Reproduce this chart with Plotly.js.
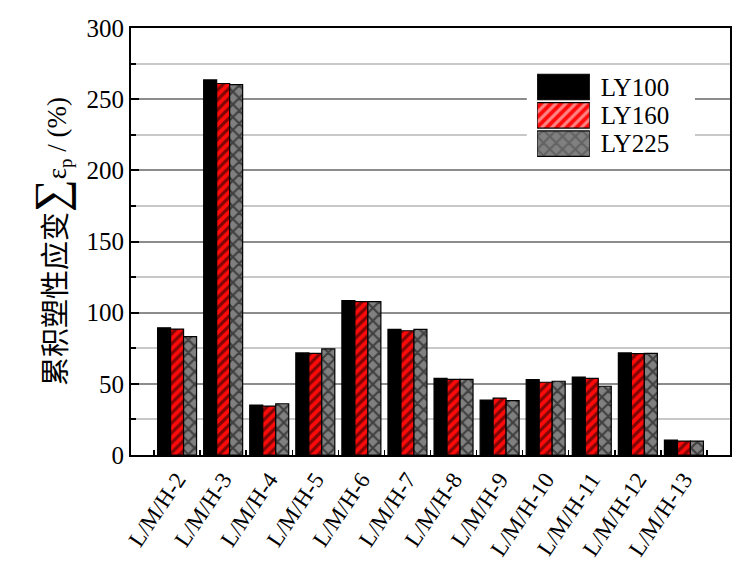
<!DOCTYPE html>
<html>
<head>
<meta charset="utf-8">
<script src="https://cdn.plot.ly/plotly-3.0.1.min.js"></script>
<style>html,body{margin:0;padding:0;background:#fff;}</style>
</head>
<body>
<div id="chart" style="width:737px;height:576px;"></div>
<script>
var categories = ['L/M/H-2','L/M/H-3','L/M/H-4','L/M/H-5','L/M/H-6','L/M/H-7','L/M/H-8','L/M/H-9','L/M/H-10','L/M/H-11','L/M/H-12','L/M/H-13'];
var seriesNames = ['LY100','LY160','LY225'];
var ly100 = [89.4, 263.5, 35.1, 71.7, 108.4, 88.3, 53.9, 38.6, 52.9, 54.8, 71.7, 10.5];
var ly160 = [88.5, 261.0, 34.4, 71.4, 107.7, 87.3, 53.2, 40.0, 51.1, 53.9, 71.2, 9.8];
var ly225 = [83.1, 260.2, 36.0, 74.5, 107.7, 88.3, 53.2, 38.2, 51.8, 48.3, 71.4, 9.8];
var legendSwatch = [1, 1, 1];

var FONT = 'Liberation Serif, Times New Roman, serif';
var fills = ['#000000', '#ff0a0a', '#808080'];
var shapes = ['', '/', 'x'];
var psize = [8, 7, 9];
var psolid = [0.3, 0.45, 0.42];

var series = [ly100, ly160, ly225];
var traces = series.map(function (vals, i) {
  return {
    type: 'bar',
    name: seriesNames[i],
    x: categories,
    y: vals,
    showlegend: false,
    marker: {
      color: fills[i],
      line: {color: '#000', width: 1.2},
      pattern: {shape: shapes[i], fillmode: 'overlay', fgcolor: '#000', bgcolor: fills[i], size: psize[i], solidity: psolid[i]}
    },
    hoverinfo: 'x+y+name'
  };
});

// legend swatches drawn as a bar trace on a small secondary axis pair
traces.push({
  type: 'bar',
  orientation: 'h',
  x: legendSwatch,
  y: seriesNames,
  xaxis: 'x2',
  yaxis: 'y2',
  width: 0.9,
  showlegend: false,
  hoverinfo: 'skip',
  marker: {
    color: fills,
    line: {color: '#000', width: 1.2},
    pattern: {shape: shapes, fillmode: 'overlay', fgcolor: '#000', bgcolor: fills, size: psize, solidity: psolid}
  }
});

var layout = {
  width: 737,
  height: 576,
  margin: {l: 131, r: 7, t: 28, b: 121},
  paper_bgcolor: '#fff',
  plot_bgcolor: '#fff',
  barmode: 'group',
  bargap: 0.154,
  bargroupgap: 0,
  showlegend: false,
  font: {family: FONT, color: '#000', size: 22},
  xaxis: {
    type: 'category',
    range: [-1, 12],
    tickson: 'boundaries',
    ticks: 'inside',
    ticklen: 5,
    tickwidth: 1.5,
    tickcolor: '#000',
    showline: true,
    linewidth: 2,
    linecolor: '#000',
    mirror: true,
    showgrid: false,
    zeroline: false,
    tickangle: -56,
    tickfont: {family: FONT, size: 23, color: '#000'}
  },
  yaxis: {
    range: [0, 300],
    dtick: 50,
    tick0: 0,
    ticks: 'inside',
    ticklen: 8,
    tickwidth: 2,
    tickcolor: '#000',
    showline: true,
    linewidth: 2,
    linecolor: '#000',
    mirror: true,
    showgrid: true,
    gridcolor: '#8c8c8c',
    gridwidth: 2,
    zeroline: false,
    tickfont: {family: FONT, size: 25, color: '#000'},
    minor: {dtick: 25, ticks: 'inside', ticklen: 5, tickwidth: 2, tickcolor: '#000', showgrid: true, gridcolor: '#c8c8c8', gridwidth: 2},
    title: {
      text: '<span style="font-family:\'Noto Sans CJK SC\';font-size:29px">累积塑性应变</span><span style="font-size:46px">∑</span>ε<sub>p</sub> / (%)',
      font: {family: FONT, size: 27, color: '#000'},
      standoff: 12
    }
  },
  xaxis2: {
    domain: [0.678, 0.766],
    anchor: 'y2',
    range: [0, 1],
    showgrid: false,
    zeroline: false,
    showline: false,
    showticklabels: false,
    ticks: '',
    fixedrange: true
  },
  yaxis2: {
    domain: [0.696, 0.895],
    anchor: 'x2',
    type: 'category',
    side: 'right',
    autorange: 'reversed',
    tickmode: 'array',
    tickvals: seriesNames,
    ticktext: seriesNames,
    showgrid: false,
    zeroline: false,
    showline: false,
    ticks: '',
    ticklabelstandoff: 10,
    tickfont: {family: FONT, size: 25, color: '#000'},
    fixedrange: true
  },
  shapes: [{
    type: 'rect', layer: 'between',
    xref: 'x', yref: 'y',
    x0: 7.59, x1: 11.24, y0: 203.7, y1: 273,
    fillcolor: '#fff', line: {width: 0}
  }]
};

Plotly.newPlot('chart', traces, layout, {displayModeBar: false, staticPlot: true});
</script>
</body>
</html>
